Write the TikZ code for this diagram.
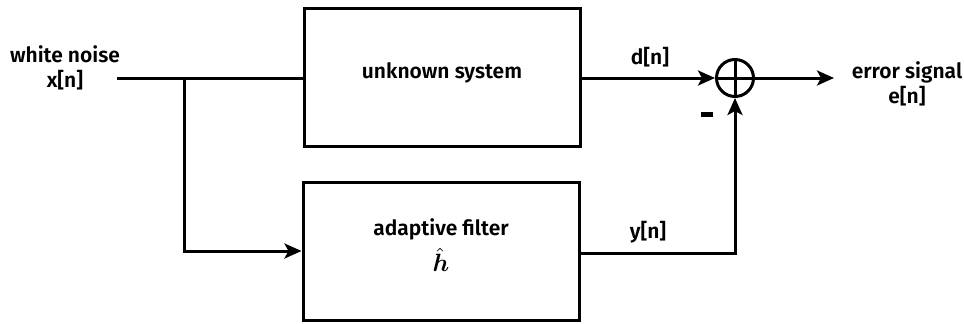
\documentclass[tikz,border=0pt]{standalone}
\usepackage{fontspec}
\usepackage{amsmath}
\usepackage{bm}
\setmainfont{Fira Sans}[BoldFont={Fira Sans SemiBold}]
\usetikzlibrary{arrows.meta}
\begin{document}
\begin{tikzpicture}[x=1pt,y=-1pt,
  lbl/.style={font=\fontsize{21}{24.5}\selectfont\bfseries, align=center, inner sep=0pt},
  blk/.style={draw, line width=3pt, minimum width=276pt, minimum height=138pt},
  sumnode/.style={draw, circle, line width=3pt, minimum size=37pt, inner sep=0pt},
  wire/.style={line width=3pt},
  arr/.style={wire, -{Stealth[length=17pt,width=15pt,inset=4pt]}}]
  \useasboundingbox (0,0) rectangle (964,324);

  % blocks
  \node[blk] (sys) at (442,77) {};
  \node[lbl] (sysname) at (442,73) {unknown system};
  \node[blk] (flt) at (441,251) {};
  \node[lbl] (fltname) at (441,229) {adaptive filter};
  \node[inner sep=0pt] (hhat) at (441,260) {\scalebox{2.5}{$\hat{\bm{h}}$}};

  % summing junction
  \node[sumnode] (sum) at (735,78) {};
  \draw[wire] (sum.north) -- (sum.south);
  \draw[wire] (sum.west) -- (sum.east);

  % signal points
  \coordinate (in) at (117,78);
  \coordinate (split) at (184,78);
  \coordinate (out) at (834,78);

  % connectors
  \draw[wire] (in) -- (sys.west |- in);
  \draw[arr] (split) |- (flt.west);
  \draw[arr] (sys.east |- sum) -- (sum.west);
  \draw[arr] (flt.east |- 0,253) -| (sum.south);
  \draw[arr] (sum.east) -- (out);

  % labels
  \node[lbl] (xin) at (65,68) {white noise\\x[n]};
  \node[lbl] (dn) at (650,57) {d[n]};
  \node[lbl] (yn) at (648,232) {y[n]};
  \node[lbl] (en) at (907,84) {error signal\\e[n]};
  \node[fill, minimum width=12pt, minimum height=5pt, inner sep=0pt] (minus) at (707,114) {};
\end{tikzpicture}
\end{document}
